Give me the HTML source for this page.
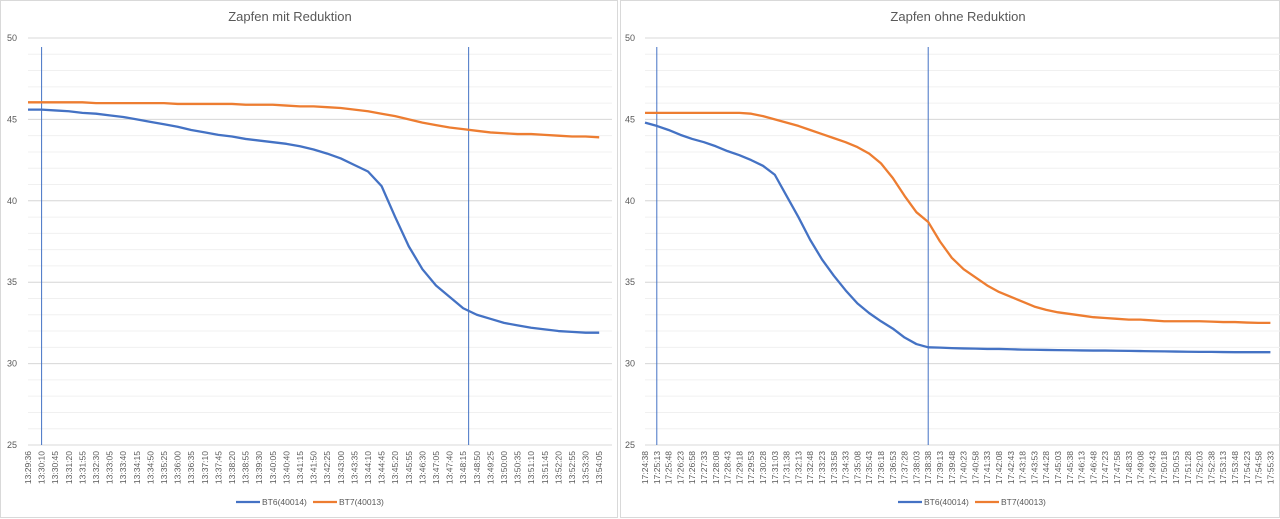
<!DOCTYPE html>
<html><head><meta charset="utf-8"><style>
html,body{margin:0;padding:0;background:#fff;width:1280px;height:519px;overflow:hidden;font-family:"Liberation Sans",sans-serif}
</style></head><body>
<svg id="svg" width="1280" height="519" xmlns="http://www.w3.org/2000/svg" style="font-family:'Liberation Sans',sans-serif"></svg>
<script>
const leftStart = 13*3600+29*60+36;
const rightStart = 17*3600+24*60+38;
const leftCount = 43;
const rightCount = 54;
const leftStep = 34.9762;
const rightStep = 35;
const yTicks = [25,30,35,40,45,50];
const leftBT6 = [45.6,45.6,45.55,45.5,45.4,45.35,45.25,45.15,45.0,44.85,44.7,44.55,44.35,44.2,44.05,43.95,43.8,43.7,43.6,43.5,43.35,43.15,42.9,42.6,42.2,41.8,40.9,39.0,37.2,35.8,34.8,34.1,33.4,33.0,32.75,32.5,32.35,32.2,32.1,32.0,31.95,31.9,31.9];
const leftBT7 = [46.05,46.05,46.05,46.05,46.05,46.0,46.0,46.0,46.0,46.0,46.0,45.95,45.95,45.95,45.95,45.95,45.9,45.9,45.9,45.85,45.8,45.8,45.75,45.7,45.6,45.5,45.35,45.2,45.0,44.8,44.65,44.5,44.4,44.3,44.2,44.15,44.1,44.1,44.05,44.0,43.95,43.95,43.9];
const rightBT6 = [44.8,44.6,44.35,44.05,43.8,43.6,43.35,43.05,42.8,42.5,42.15,41.6,40.3,39.0,37.6,36.4,35.4,34.5,33.7,33.1,32.6,32.15,31.6,31.2,31.0,30.98,30.95,30.93,30.92,30.9,30.9,30.88,30.86,30.85,30.84,30.83,30.82,30.81,30.8,30.8,30.79,30.78,30.77,30.76,30.75,30.74,30.73,30.72,30.72,30.71,30.7,30.7,30.7,30.7];
const rightBT7 = [45.4,45.4,45.4,45.4,45.4,45.4,45.4,45.4,45.4,45.35,45.2,45.0,44.8,44.6,44.35,44.1,43.85,43.6,43.3,42.9,42.3,41.4,40.3,39.3,38.7,37.5,36.5,35.8,35.3,34.8,34.4,34.1,33.8,33.5,33.3,33.15,33.05,32.95,32.85,32.8,32.75,32.7,32.7,32.65,32.6,32.6,32.6,32.6,32.58,32.55,32.55,32.52,32.5,32.5];
const leftMarkers = [1,32.4];
const rightMarkers = [1,24];

const NS="http://www.w3.org/2000/svg";
const svg=document.getElementById('svg');
function el(tag,attrs,parent){const e=document.createElementNS(NS,tag);for(const k in attrs)e.setAttribute(k,attrs[k]);(parent||svg).appendChild(e);return e;}
function fmt(s){const h=Math.floor(s/3600),m=Math.floor(s%3600/60),ss=s%60;return h+':'+String(m).padStart(2,'0')+':'+String(ss).padStart(2,'0');}

function chart(cfg){
  const g=el('g',{});
  
  
  const fr=el('rect',{x:cfg.fx,y:0.5,width:cfg.fw,height:517,fill:'#fff',stroke:'#d9d9d9'},g);
  
  
  const top=38,bot=445;
  const yS=v=>top+(50-v)*(bot-top)/25;
  const xS=i=>cfg.x0+i*cfg.dx;
  for(let v=26;v<50;v++){
    const ln=el('line',{x1:cfg.gx0,x2:cfg.gx1,y1:yS(v),y2:yS(v),stroke:'#f0f0f0','stroke-width':1},g);
    
    
  }
  yTicks.forEach(v=>{
    const ln=el('line',{x1:cfg.gx0,x2:cfg.gx1,y1:yS(v),y2:yS(v),stroke:'#d9d9d9','stroke-width':1},g);
    
    
    const t=el('text',{x:cfg.yl,y:yS(v)+3,'font-size':9,fill:'#595959','text-anchor':'end'},g);
    t.textContent=v;
    
    
  });
  for(let i=0;i<cfg.count;i++){
    const x=xS(i);
    const t=el('text',{x:0,y:0,'font-size':8.5,fill:'#595959','text-anchor':'end',transform:`translate(${x+3},451) rotate(-90)`},g);
    t.textContent=fmt(cfg.start+Math.floor(i*cfg.step+1e-6));
    
    
  }
  cfg.markers.forEach(m=>{
    const ln=el('line',{x1:xS(m),x2:xS(m),y1:47,y2:bot,stroke:'#4472c4','stroke-width':1},g);
    
    
  });
  const ser=[[cfg.b7,'#ed7d31','series-bt7'],[cfg.b6,'#4472c4','series-bt6']];
  ser.forEach(([arr,c,n])=>{
    const p=el('polyline',{points:arr.map((v,i)=>xS(i)+','+yS(v)).join(' '),fill:'none',stroke:c,'stroke-width':2.3,'stroke-linejoin':'round'},g);
    
    
  });
  const tt=el('text',{x:cfg.tx,y:21,'font-size':13,fill:'#595959','text-anchor':'middle'},g);
  tt.textContent=cfg.title;
  
  
  const lx=cfg.lx;
  [[0,'#4472c4','BT6(40014)'],[1,'#ed7d31','BT7(40013)']].forEach(([k,c,lab])=>{
    const gx=lx+k*77;
    const ln=el('line',{x1:gx,x2:gx+24,y1:502,y2:502,stroke:c,'stroke-width':2.3},g);
    
    
    const t=el('text',{x:gx+26,y:505,'font-size':8.5,fill:'#595959'},g);
    t.textContent=lab;
    
    
  });
}
chart({name:'chart-mit-reduktion',fx:0.5,fw:617,gx0:28,gx1:612,yl:17,x0:28,dx:13.6,count:leftCount,start:leftStart,step:leftStep,b6:leftBT6,b7:leftBT7,markers:leftMarkers,title:'Zapfen mit Reduktion',tx:290,lx:236});
chart({name:'chart-ohne-reduktion',fx:620.5,fw:659,gx0:645,gx1:1280,yl:635,x0:645,dx:11.8,count:rightCount,start:rightStart,step:rightStep,b6:rightBT6,b7:rightBT7,markers:rightMarkers,title:'Zapfen ohne Reduktion',tx:958,lx:898});
</script>
</body></html>
